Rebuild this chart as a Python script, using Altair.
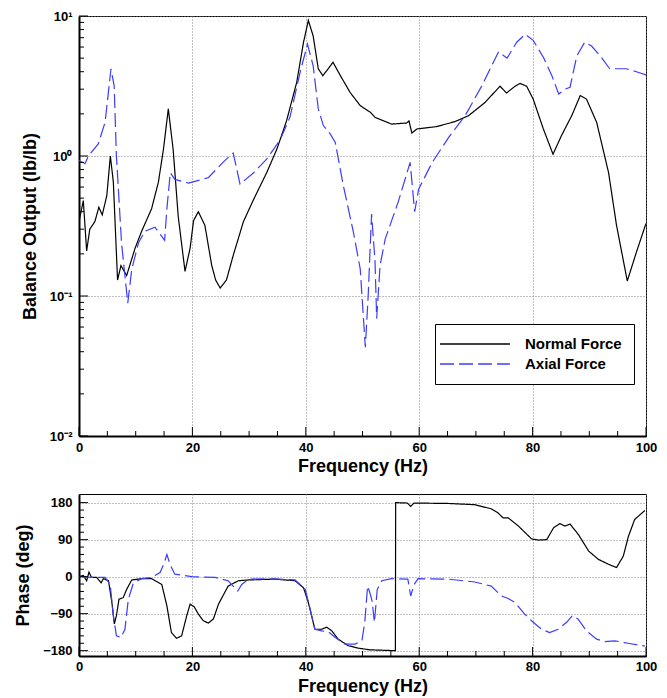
import altair as alt
import pandas as pd

FONT = "Liberation Sans"

# ---------------- data ----------------
normal_mag_freq = [0.0, 0.76, 1.35, 1.9, 2.8, 3.5, 4.1, 4.9, 5.53, 6.06, 6.8, 7.4, 8.4, 9.9,
                   11.05, 12.8, 14.0, 14.9, 15.75, 16.6, 17.5, 18.7, 19.6, 20.2, 21.05, 22.2,
                   23.4, 24.1, 24.9, 26.0, 27.2, 29.0, 30.8, 33.1, 34.9, 36.6, 38.4, 39.6,
                   40.45, 41.3, 42.2, 43.0, 43.7, 44.8, 46.1, 47.8, 49.6, 51.4, 52.2, 55.1,
                   57.8, 58.2, 58.7, 59.6, 63.0, 66.3, 68.7, 71.6, 74.25, 75.4, 76.9, 77.8,
                   78.95, 80.1, 81.9, 83.6, 85.1, 86.0, 86.9, 88.4, 89.5, 91.3, 93.4, 94.8,
                   96.7, 98.3, 100.0]
normal_mag_val = [0.34, 0.48, 0.21, 0.30, 0.34, 0.43, 0.38, 0.52, 1.0, 0.65, 0.13, 0.165,
                  0.14, 0.22, 0.29, 0.42, 0.65, 1.12, 2.17, 1.12, 0.37, 0.15, 0.22, 0.345,
                  0.40, 0.32, 0.166, 0.13, 0.114, 0.13, 0.195, 0.34, 0.49, 0.76, 1.12, 1.78,
                  3.36, 6.5, 9.3, 7.2, 4.2, 3.75, 4.07, 4.67, 3.75, 2.85, 2.29, 2.05, 1.89,
                  1.69, 1.72, 1.78, 1.46, 1.56, 1.62, 1.76, 1.94, 2.41, 3.15, 2.82, 3.15, 3.3,
                  3.15, 2.55, 1.56, 1.03, 1.4, 1.65, 1.94, 2.7, 2.55, 1.74, 0.76, 0.32,
                  0.128, 0.205, 0.33]

axial_mag_freq = [0.0, 1.06, 1.65, 3.4, 4.6, 5.64, 6.2, 6.6, 7.5, 8.6, 9.3, 10.5, 11.6, 13.4,
                  15.1, 15.5, 16.1, 16.9, 19.3, 22.8, 25.75, 27.2, 28.4, 30.8, 33.1, 35.5,
                  37.2, 39.0, 40.3, 41.3, 42.2, 43.1, 44.3, 45.2, 46.6, 48.4, 49.6, 50.5,
                  51.0, 51.6, 52.2, 52.5, 53.1, 54.0, 56.3, 58.4, 59.2, 59.9, 62.3, 65.2,
                  68.1, 71.1, 74.0, 75.5, 77.2, 78.7, 80.1, 81.9, 83.4, 84.6, 85.7, 86.6,
                  87.8, 89.2, 90.4, 91.9, 93.6, 94.8, 96.5, 98.3, 100.0]
axial_mag_val = [0.93, 0.88, 1.0, 1.22, 1.74, 4.2, 3.17, 1.0, 0.24, 0.089, 0.155, 0.24, 0.29,
                 0.31, 0.25, 0.42, 0.76, 0.68, 0.64, 0.70, 0.93, 1.05, 0.63, 0.76, 0.95, 1.31,
                 1.89, 3.97, 6.3, 4.4, 2.17, 1.65, 1.44, 1.25, 0.62, 0.285, 0.156, 0.043, 0.1,
                 0.385, 0.18, 0.069, 0.165, 0.255, 0.47, 0.90, 0.40, 0.58, 0.90, 1.36, 1.94,
                 3.2, 5.56, 5.0, 6.5, 7.4, 6.7, 5.07, 3.75, 2.77, 3.0, 3.1, 5.2, 6.5, 6.1,
                 5.2, 4.2, 4.2, 4.2, 4.0, 3.8]

normal_phase_freq = [0.0, 0.76, 1.35, 1.76, 2.2, 3.1, 3.9, 4.3, 5.2, 5.8, 6.23, 6.6, 7.05,
                     7.8, 8.4, 9.3, 11.05, 12.8, 14.6, 15.5, 16.3, 17.2, 18.1, 19.0, 19.6,
                     20.3, 21.05, 21.9, 22.8, 23.7, 24.6, 26.3, 28.1, 29.9, 34.6, 38.1, 39.6,
                     40.45, 41.6, 42.8, 43.7, 44.6, 45.7, 47.5, 49.3, 51.3, 55.8, 55.85, 57.9,
                     58.5, 59.1, 65.1, 69.8, 72.7, 73.9, 74.8, 75.7, 77.5, 79.8, 81.0, 82.5,
                     83.7, 84.8, 85.7, 86.6, 88.1, 89.9, 91.6, 93.4, 94.8, 96.0, 96.9, 98.0,
                     99.8]
normal_phase_val = [0, 3, -10, 11, -2, -2, -15, -5, -10, -63, -115, -95, -55, -51, -31, -8,
                    -5, -5, -19, -71, -136, -150, -144, -95, -67, -73, -91, -107, -113, -103,
                    -67, -23, -10, -8, -6, -10, -27, -63, -128, -128, -123, -132, -152, -168,
                    -174, -178, -180, 180, 179, 171, 179, 178, 175, 165, 155, 143, 143, 123,
                    92, 89, 90, 119, 129, 123, 128, 102, 62, 42, 30, 22, 50, 98, 139, 161]

axial_phase_freq = [0.0, 2.2, 4.6, 5.5, 6.06, 6.6, 7.4, 8.1, 8.7, 9.6, 11.05, 12.8, 14.3,
                    15.05, 15.5, 16.05, 16.9, 19.9, 24.0, 26.3, 28.0, 28.7, 29.9, 33.4, 38.1,
                    39.9, 40.7, 41.6, 42.8, 44.0, 45.2, 46.9, 48.7, 49.9, 50.4, 50.9, 51.3,
                    51.7, 52.1, 52.6, 53.4, 55.1, 58.0, 58.5, 59.1, 59.8, 65.1, 69.8, 72.7,
                    74.5, 75.7, 76.9, 78.6, 80.1, 81.6, 83.0, 84.5, 86.0, 87.0, 88.0, 89.5,
                    91.3, 92.7, 94.5, 96.8, 99.8]
axial_phase_val = [0, -2, -2, -19, -95, -144, -148, -128, -55, -15, -5, -2, 10, 34, 54, 30,
                   6, 0, -2, -10, -35, -19, -6, -5, -8, -31, -75, -128, -132, -134, -148,
                   -164, -164, -156, -111, -23, -39, -60, -111, -31, -10, -5, -6, -47, -19,
                   -5, -6, -13, -23, -47, -53, -63, -91, -111, -128, -136, -128, -111, -95,
                   -103, -132, -152, -158, -156, -162, -169]

series_names = ["Normal Force", "Axial Force"]
series_colors = ["#000000", "#3c3cff"]
series_dash = [[1, 0], [14, 5]]

x_major = [0, 20, 40, 60, 80, 100]
x_minor = [5, 10, 15, 25, 30, 35, 45, 50, 55, 65, 70, 75, 85, 90, 95]
mag_major = [0.01, 0.1, 1, 10]
mag_minor = [m * d for d in (0.01, 0.1, 1) for m in range(2, 10)]
phase_major = [-180, -90, 0, 90, 180]
phase_minor = [v for v in range(-180, 181, 18) if v % 90 != 0]


def frame(fs, vs, name):
    return pd.DataFrame({"freq": fs, "val": vs, "series": name})


mag_df = pd.concat([frame(normal_mag_freq, normal_mag_val, series_names[0]),
                    frame(axial_mag_freq, axial_mag_val, series_names[1])])
phase_df = pd.concat([frame(normal_phase_freq, normal_phase_val, series_names[0]),
                      frame(axial_phase_freq, axial_phase_val, series_names[1])])

W, H1, H2 = 567, 420, 162
MAJ, MIN = 9, 5

xscale = alt.Scale(domain=[0, 100], nice=False, zero=False)
magscale = alt.Scale(type="log", domain=[0.01, 10], nice=False)
phscale = alt.Scale(domain=[-193, 201], nice=False, zero=False)

X_AXIS_TOP = alt.Axis(values=x_major, format="d", title="Frequency (Hz)", grid=True,
                      ticks=False, tickSize=0, labelPadding=5, titlePadding=3,
                      labelFlush=False)
X_AXIS_BOT = alt.Axis(values=x_major, format="d", title="Frequency (Hz)", grid=True,
                      ticks=False, tickSize=0, labelPadding=4, titlePadding=4,
                      labelFlush=False)
MAG_AXIS = alt.Axis(values=mag_major, grid=True, ticks=False, tickSize=0, labelPadding=7,
                    title="Balance Output (lb/lb)", titlePadding=10,
                    labelExpr="datum.value > 5 ? '10\u00b9' : datum.value > 0.5 ? '10\u2070' : datum.value > 0.05 ? '10\u207b\u00b9' : '10\u207b\u00b2'")
PH_AXIS = alt.Axis(values=phase_major, grid=True, ticks=False, tickSize=0, labelPadding=7,
                   title="Phase (deg)", titlePadding=10)

legend = alt.Legend(orient="none", legendX=356, legendY=308, title=None,
                    strokeColor="black", fillColor="white", padding=12,
                    cornerRadius=0, symbolType="M-2.14,0L7.86,0", symbolSize=196,
                    symbolStrokeWidth=1.3, labelFontSize=15, labelFont=FONT,
                    labelFontWeight="bold", labelColor="black", labelOffset=62,
                    rowPadding=4)

color_top = alt.Color("series:N", scale=alt.Scale(domain=series_names, range=series_colors),
                      legend=legend)
dash_top = alt.StrokeDash("series:N", scale=alt.Scale(domain=series_names, range=series_dash),
                          legend=legend)
color_bot = alt.Color("series:N", scale=alt.Scale(domain=series_names, range=series_colors),
                      legend=None)
dash_bot = alt.StrokeDash("series:N", scale=alt.Scale(domain=series_names, range=series_dash),
                          legend=None)


def xticks(vals, h, length, axis):
    return alt.Chart(pd.DataFrame({"freq": vals})).mark_rule(color="black", strokeWidth=1).encode(
        x=alt.X("freq:Q", scale=xscale, axis=axis),
        y=alt.value(h), y2=alt.value(h - length))


def yticks(vals, scale, axis, length):
    return alt.Chart(pd.DataFrame({"val": vals})).mark_rule(color="black", strokeWidth=1).encode(
        y=alt.Y("val:Q", scale=scale, axis=axis),
        x=alt.value(0), x2=alt.value(length))


mag_lines = alt.Chart(mag_df).mark_line(strokeWidth=1.2, clip=True).encode(
    x=alt.X("freq:Q", scale=xscale, axis=X_AXIS_TOP),
    y=alt.Y("val:Q", scale=magscale, axis=MAG_AXIS),
    color=color_top,
    strokeDash=dash_top,
)

top = alt.layer(
    mag_lines,
    xticks(x_major, H1, MAJ, X_AXIS_TOP), xticks(x_minor, H1, MIN, X_AXIS_TOP),
    yticks(mag_major, magscale, MAG_AXIS, MAJ), yticks(mag_minor, magscale, MAG_AXIS, MIN),
).properties(width=W, height=H1)

phase_lines = alt.Chart(phase_df).mark_line(strokeWidth=1.2, clip=True).encode(
    x=alt.X("freq:Q", scale=xscale, axis=X_AXIS_BOT),
    y=alt.Y("val:Q", scale=phscale, axis=PH_AXIS),
    color=color_bot,
    strokeDash=dash_bot,
)

bottom = alt.layer(
    phase_lines,
    xticks(x_major, H2, MAJ, X_AXIS_BOT), xticks(x_minor, H2, MIN, X_AXIS_BOT),
    yticks(phase_major, phscale, PH_AXIS, MAJ), yticks(phase_minor, phscale, PH_AXIS, MIN),
).properties(width=W, height=H2)

chart = alt.vconcat(top, bottom, spacing=17).resolve_scale(
    color="independent", strokeDash="independent"
).properties(
    padding={"left": 14, "top": 9, "right": 5, "bottom": 0}
).configure(font=FONT).configure_axis(
    labelFont=FONT, labelFontSize=13, labelFontWeight="bold", labelColor="black",
    titleFont=FONT, titleFontSize=18, titleFontWeight="bold", titleColor="black",
    domainColor="black", domainWidth=2,
    gridColor="#808080", gridDash=[1, 2], gridWidth=1, gridOpacity=1,
).configure_view(stroke="black", strokeWidth=1)

chart.save("out.html", embed_options={"renderer": "svg", "actions": False})
